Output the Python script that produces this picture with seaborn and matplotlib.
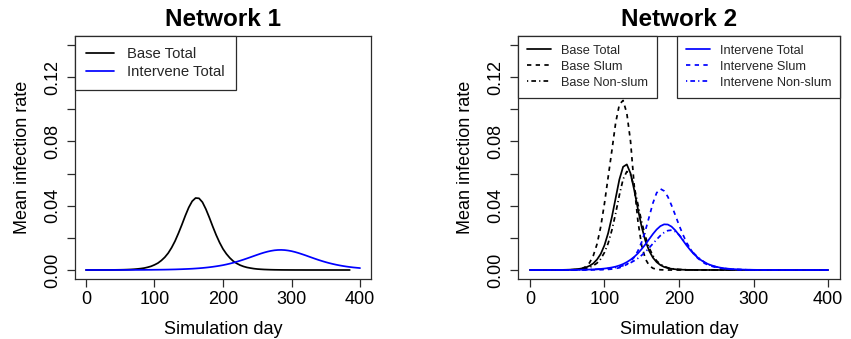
import matplotlib
matplotlib.use("Agg")
import matplotlib.pyplot as plt
from matplotlib.lines import Line2D
import pandas as pd
import seaborn as sns

# ---------------- data ----------------
days = list(range(0, 401, 5))

# Network 1 (base curve stops at day 385)
n1_base_total = [
    0, 0, 0, 0.00001, 0.00002, 0.00003, 0.00004, 0.00005, 0.00007, 0.0001,
    0.00013, 0.00018, 0.00025, 0.00034, 0.00047, 0.00065, 0.00089, 0.0012, 0.0017, 0.0023,
    0.0032, 0.0043, 0.0059, 0.0079, 0.0105, 0.0139, 0.0180, 0.0229, 0.0282, 0.0338,
    0.0389, 0.0428, 0.0448, 0.0446, 0.0422, 0.0379, 0.0327, 0.0271, 0.0218, 0.0171,
    0.0131, 0.0100, 0.0075, 0.0055, 0.0041, 0.0030, 0.0022, 0.0016, 0.0012, 0.00085,
    0.0006, 0.00045, 0.00032, 0.00024, 0.00017, 0.00012, 0.00009, 0.00006, 0.00004, 0.00003,
    0.00002, 0.00001, 0.00001, 0.00001, 0, 0, 0, 0, 0, 0,
    0, 0, 0, 0, 0, 0, 0, 0,
]
n1_int_total = [
    0.00001, 0.00001, 0.00001, 0.00001, 0.00001, 0.00001, 0.00002, 0.00002, 0.00002, 0.00003,
    0.00003, 0.00004, 0.00004, 0.00005, 0.00006, 0.00007, 0.00008, 0.00009, 0.00011, 0.00012,
    0.00015, 0.00017, 0.00020, 0.00023, 0.00027, 0.00032, 0.00037, 0.00044, 0.00051, 0.00060,
    0.00069, 0.00080, 0.00094, 0.00109, 0.00127, 0.00148, 0.00172, 0.00199, 0.00230, 0.00264,
    0.00302, 0.00347, 0.00397, 0.00452, 0.00513, 0.00578, 0.00647, 0.00720, 0.00795, 0.00871,
    0.00946, 0.01019, 0.01085, 0.01143, 0.01190, 0.01225, 0.01245, 0.01250, 0.01239, 0.01212,
    0.01173, 0.01121, 0.01059, 0.00990, 0.00918, 0.00841, 0.00765, 0.00690, 0.00618, 0.00551,
    0.00488, 0.00430, 0.00378, 0.00330, 0.00288, 0.00250, 0.00216, 0.00187, 0.00161, 0.00140,
    0.00120,
]

# Network 2
n2_base_total = [
    0, 0, 0, 0, 0.00001, 0.00001, 0.00002, 0.00004, 0.00006, 0.00009,
    0.00015, 0.00024, 0.00039, 0.00063, 0.0010, 0.0016, 0.0026, 0.0041, 0.0065, 0.0100,
    0.0154, 0.0230, 0.0331, 0.0447, 0.0563, 0.0642, 0.0657, 0.0601, 0.0496, 0.0376,
    0.0267, 0.0181, 0.0119, 0.0077, 0.0049, 0.0031, 0.0019, 0.0012, 0.00075, 0.00046,
    0.00030, 0.00018, 0.00011, 0.00007, 0.00004, 0.00003, 0.00002, 0.00001, 0, 0,
    0, 0, 0, 0, 0, 0, 0, 0, 0, 0,
    0, 0, 0, 0, 0, 0, 0, 0, 0, 0,
    0, 0, 0, 0, 0, 0, 0, 0, 0, 0,
    0,
]
n2_base_slum = [
    0, 0, 0, 0, 0, 0, 0, 0, 0, 0,
    0.00001, 0.00004, 0.00013, 0.00036, 0.0009, 0.0021, 0.0045, 0.0089, 0.0161, 0.0269,
    0.0414, 0.0580, 0.0745, 0.0915, 0.1030, 0.1055, 0.0975, 0.0800, 0.0520, 0.0300,
    0.0150, 0.0068, 0.0028, 0.0011, 0.0004, 0.00015, 0.00005, 0, 0, 0,
    0, 0, 0, 0, 0, 0, 0, 0, 0, 0,
    0, 0, 0, 0, 0, 0, 0, 0, 0, 0,
    0, 0, 0, 0, 0, 0, 0, 0, 0, 0,
    0, 0, 0, 0, 0, 0, 0, 0, 0, 0,
    0,
]
n2_base_nonslum = [
    0, 0, 0, 0, 0, 0, 0.00001, 0.00002, 0.00003, 0.00005,
    0.00009, 0.00015, 0.00024, 0.00039, 0.00063, 0.0010, 0.0017, 0.0027, 0.0043, 0.0069,
    0.0109, 0.0167, 0.0249, 0.0352, 0.0466, 0.0565, 0.0613, 0.0593, 0.0515, 0.0406,
    0.0298, 0.0207, 0.0138, 0.0089, 0.0057, 0.0036, 0.0023, 0.0014, 0.0009, 0.00055,
    0.00034, 0.00021, 0.00013, 0.00008, 0.00005, 0.00003, 0.00002, 0.00001, 0, 0,
    0, 0, 0, 0, 0, 0, 0, 0, 0, 0,
    0, 0, 0, 0, 0, 0, 0, 0, 0, 0,
    0, 0, 0, 0, 0, 0, 0, 0, 0, 0,
    0,
]
n2_int_total = [
    0, 0, 0.00001, 0.00001, 0.00001, 0.00001, 0.00002, 0.00002, 0.00003, 0.00004,
    0.00005, 0.00007, 0.00009, 0.00012, 0.00016, 0.00021, 0.00028, 0.00038, 0.00051, 0.00068,
    0.00091, 0.0012, 0.0016, 0.0021, 0.0028, 0.0037, 0.0049, 0.0064, 0.0082, 0.0104,
    0.0131, 0.0160, 0.0192, 0.0224, 0.0252, 0.0273, 0.0284, 0.0283, 0.0270, 0.0247,
    0.0218, 0.0186, 0.0154, 0.0125, 0.0099, 0.0078, 0.0060, 0.0046, 0.0035, 0.0027,
    0.0020, 0.0015, 0.0011, 0.00085, 0.00064, 0.00048, 0.00036, 0.00027, 0.00020, 0.00015,
    0.00011, 0.00008, 0.00006, 0.00005, 0.00003, 0.00003, 0.00002, 0.00002, 0.00001, 0.00001,
    0.00001, 0.00001, 0.00001, 0, 0, 0, 0, 0, 0, 0,
    0,
]
n2_int_slum = [
    0, 0, 0, 0, 0, 0, 0, 0, 0, 0,
    0.00001, 0.00001, 0.00001, 0.00001, 0.00002, 0.00003, 0.00004, 0.00006, 0.00010, 0.00015,
    0.00024, 0.00038, 0.00059, 0.00092, 0.0014, 0.0022, 0.0035, 0.0053, 0.0080, 0.0120,
    0.0175, 0.0247, 0.0331, 0.0416, 0.0480, 0.0505, 0.0492, 0.0456, 0.0402, 0.0342,
    0.0280, 0.0223, 0.0173, 0.0132, 0.0099, 0.0074, 0.0055, 0.0040, 0.0030, 0.0022,
    0.0016, 0.0012, 0.00084, 0.00061, 0.00044, 0.00032, 0.00023, 0.00016, 0.00012, 0.00009,
    0.00006, 0.00004, 0.00003, 0.00002, 0.00002, 0.00001, 0.00001, 0.00001, 0.00001, 0.00001,
    0, 0, 0, 0, 0, 0, 0, 0, 0, 0,
    0,
]
n2_int_nonslum = [
    0, 0, 0, 0, 0.00001, 0.00001, 0.00001, 0.00002, 0.00002, 0.00003,
    0.00004, 0.00005, 0.00007, 0.00010, 0.00013, 0.00017, 0.00023, 0.00030, 0.00040, 0.00053,
    0.00070, 0.00092, 0.0012, 0.0016, 0.0021, 0.0027, 0.0035, 0.0045, 0.0058, 0.0073,
    0.0092, 0.0113, 0.0138, 0.0164, 0.0190, 0.0214, 0.0233, 0.0245, 0.0248, 0.0239,
    0.0219, 0.0192, 0.0162, 0.0132, 0.0104, 0.0081, 0.0062, 0.0046, 0.0034, 0.0025,
    0.0019, 0.0014, 0.0010, 0.00073, 0.00053, 0.00039, 0.00028, 0.00021, 0.00015, 0.00011,
    0.00008, 0.00006, 0.00004, 0.00003, 0.00002, 0.00002, 0.00001, 0.00001, 0.00001, 0.00001,
    0.00001, 0, 0, 0, 0, 0, 0, 0, 0, 0,
    0,
]

panel_titles = ["Network 1", "Network 2"]
x_label = "Simulation day"
y_label = "Mean infection rate"
x_ticks = [0, 100, 200, 300, 400]
y_major = [0.00, 0.04, 0.08, 0.12]
y_minor = [0.02, 0.06, 0.10, 0.14]
groups = ["Base", "Intervene"]
kinds = ["Total", "Slum", "Non-slum"]

# ---------------- styling ----------------
sns.set_theme(style="white")
plt.rcParams["font.family"] = ["Liberation Sans", "DejaVu Sans"]

FRAME = "#2b2b2b"
palette = {"Base": "black", "Intervene": "#0000ff"}
dash_map = {"Total": "", "Slum": (2.5, 2.5), "Non-slum": (0.7, 1.8, 2.7, 1.8)}
LW = 1.25


def frame(group, kind, vals):
    return pd.DataFrame({"day": days[:len(vals)], "rate": vals,
                         "group": group, "kind": kind})


df1 = pd.concat([frame("Base", "Total", n1_base_total),
                 frame("Intervene", "Total", n1_int_total)], ignore_index=True)
df2 = pd.concat([frame("Base", "Total", n2_base_total),
                 frame("Base", "Slum", n2_base_slum),
                 frame("Base", "Non-slum", n2_base_nonslum),
                 frame("Intervene", "Total", n2_int_total),
                 frame("Intervene", "Slum", n2_int_slum),
                 frame("Intervene", "Non-slum", n2_int_nonslum)], ignore_index=True)

W, H = 851, 339
fig = plt.figure(figsize=(W / 100, H / 100), dpi=100)
ax1 = fig.add_axes([75 / W, 60 / H, 296 / W, 243 / H])
ax2 = fig.add_axes([518 / W, 60 / H, 322 / W, 243 / H])

for ax, df, title in [(ax1, df1, panel_titles[0]), (ax2, df2, panel_titles[1])]:
    kinds_present = [k for k in kinds if k in set(df["kind"])]
    sns.lineplot(data=df, x="day", y="rate", hue="group", style="kind",
                 hue_order=groups, style_order=kinds_present,
                 palette=palette, dashes={k: dash_map[k] for k in kinds_present},
                 estimator=None, linewidth=LW, legend=False, ax=ax)
    ax.set_xlim(-16, 416)
    ax.set_ylim(-0.0056, 0.1456)
    ax.set_xticks(x_ticks)
    ax.set_xticklabels([str(v) for v in x_ticks])
    ax.set_yticks(y_major)
    ax.set_yticklabels([f"{v:.2f}" for v in y_major])
    ax.set_yticks(y_minor, minor=True)
    for s in ax.spines.values():
        s.set_visible(True)
        s.set_color(FRAME)
        s.set_linewidth(0.9)
    ax.tick_params(axis="both", which="both", direction="out", length=5.8,
                   width=0.9, color=FRAME, labelsize=13, labelcolor="black")
    ax.tick_params(axis="x", which="both", bottom=True, pad=2.5)
    ax.tick_params(axis="y", which="both", left=True, pad=4.0, labelrotation=90)
    for lab in ax.get_yticklabels():
        lab.set_va("center")
        lab.set_ha("right")
    ax.set_xlabel(x_label, fontsize=13, labelpad=10.0, color="black")
    ax.set_ylabel(y_label, fontsize=13, labelpad=9.5, color="black")
    ax.set_title(title, fontsize=17.5, fontweight="bold", pad=7.0, color="black")
    ax.grid(False)


def style_legend(leg):
    fr = leg.get_frame()
    fr.set_edgecolor(FRAME)
    fr.set_linewidth(0.9)
    fr.set_facecolor("white")
    fr.set_alpha(1)


def make_handles(group, kind_list):
    hs = []
    for k in kind_list:
        ln = Line2D([], [], color=palette[group], lw=LW)
        if dash_map[k]:
            ln.set_dashes(dash_map[k])
        hs.append(ln)
    return hs


# legend for panel 1
leg1 = ax1.legend([make_handles(g, ["Total"])[0] for g in groups],
                  [f"{g} Total" for g in groups], loc="upper left",
                  bbox_to_anchor=(0, 1), borderaxespad=0, fontsize=10.7,
                  frameon=True, fancybox=False, handlelength=1.9,
                  handletextpad=0.85, borderpad=0.75, labelspacing=0.25)
style_legend(leg1)

leg2a = ax2.legend(make_handles("Base", kinds), [f"Base {k}" for k in kinds],
                   loc="upper left", bbox_to_anchor=(0, 1), borderaxespad=0,
                   fontsize=9.2, frameon=True, fancybox=False, handlelength=1.9,
                   handletextpad=0.75, borderpad=0.7, labelspacing=0.3)
style_legend(leg2a)
ax2.add_artist(leg2a)
leg2b = ax2.legend(make_handles("Intervene", kinds), [f"Intervene {k}" for k in kinds],
                   loc="upper right", bbox_to_anchor=(1, 1), borderaxespad=0,
                   fontsize=9.2, frameon=True, fancybox=False, handlelength=1.9,
                   handletextpad=0.75, borderpad=0.7, labelspacing=0.3)
style_legend(leg2b)

fig.savefig("out.png", dpi=100, facecolor="white")
